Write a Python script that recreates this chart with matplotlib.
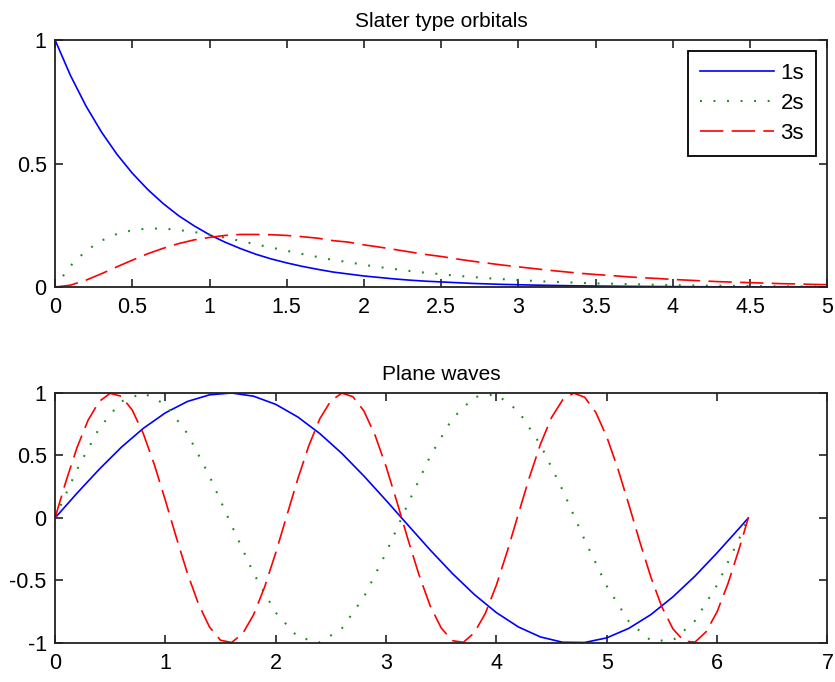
import numpy as np
import matplotlib.pyplot as plt

plt.rcParams['font.family'] = ['Liberation Sans', 'DejaVu Sans']

# Slater type orbitals sampled on r = 0 .. 5
r = np.round(np.arange(0, 5.01, 0.1), 2)
sto_1s = [1.000, 0.856, 0.733, 0.628, 0.538, 0.461, 0.395, 0.338, 0.289, 0.248,
          0.212, 0.182, 0.156, 0.133, 0.114, 0.098, 0.084, 0.072, 0.061, 0.053,
          0.045, 0.039, 0.033, 0.028, 0.024, 0.021, 0.018, 0.015, 0.013, 0.011,
          0.0096, 0.0082, 0.0070, 0.0060, 0.0051, 0.0044, 0.0038, 0.0032, 0.0028, 0.0024,
          0.0020, 0.0017, 0.0015, 0.0013, 0.0011, 0.0009, 0.0008, 0.0007, 0.0006, 0.0005,
          0.0004]
sto_2s = [0.000, 0.086, 0.147, 0.188, 0.215, 0.230, 0.237, 0.237, 0.231, 0.223,
          0.212, 0.200, 0.187, 0.173, 0.160, 0.147, 0.134, 0.122, 0.110, 0.101,
          0.090, 0.081, 0.073, 0.065, 0.058, 0.052, 0.046, 0.041, 0.036, 0.032,
          0.029, 0.025, 0.022, 0.020, 0.017, 0.015, 0.014, 0.012, 0.011, 0.009,
          0.008, 0.007, 0.006, 0.006, 0.005, 0.004, 0.004, 0.003, 0.003, 0.002,
          0.002]
sto_3s = [0.000, 0.008, 0.028, 0.054, 0.082, 0.109, 0.135, 0.157, 0.176, 0.191,
          0.201, 0.209, 0.213, 0.213, 0.212, 0.209, 0.204, 0.198, 0.188, 0.182,
          0.171, 0.162, 0.152, 0.142, 0.132, 0.124, 0.114, 0.105, 0.097, 0.089,
          0.082, 0.075, 0.068, 0.062, 0.056, 0.051, 0.047, 0.042, 0.038, 0.035,
          0.031, 0.028, 0.025, 0.022, 0.020, 0.018, 0.016, 0.014, 0.013, 0.011,
          0.010]
sto_labels = ['1s', '2s', '3s']

# Plane waves on x = 0 .. 2*pi
x_coarse = [0.0, 0.2, 0.4, 0.6, 0.8, 1.0, 1.2, 1.4, 1.6, 1.8, 2.0, 2.2, 2.4, 2.6,
            2.8, 3.0, 3.2, 3.4, 3.6, 3.8, 4.0, 4.2, 4.4, 4.6, 4.8, 5.0, 5.2, 5.4,
            5.6, 5.8, 6.0, 6.2, 6.283]
wave_1 = [0.000, 0.199, 0.389, 0.565, 0.717, 0.841, 0.932, 0.985, 1.000, 0.974,
          0.909, 0.808, 0.675, 0.516, 0.335, 0.141, -0.058, -0.256, -0.443, -0.612,
          -0.757, -0.872, -0.952, -0.994, -0.996, -0.959, -0.883, -0.773, -0.631, -0.465,
          -0.279, -0.083, 0.000]
wave_2 = [0.000, 0.389, 0.717, 0.932, 1.000, 0.909, 0.675, 0.335, -0.058, -0.443,
          -0.757, -0.952, -0.996, -0.883, -0.631, -0.279, 0.117, 0.494, 0.794, 0.968,
          0.989, 0.855, 0.585, 0.223, -0.175, -0.544, -0.827, -0.981, -0.980, -0.822,
          -0.537, -0.166, 0.000]
x_fine = [0.0, 0.1, 0.2, 0.3, 0.4, 0.5, 0.6, 0.7, 0.8, 0.9, 1.0, 1.1, 1.2, 1.3,
          1.4, 1.5, 1.6, 1.7, 1.8, 1.9, 2.0, 2.1, 2.2, 2.3, 2.4, 2.5, 2.6, 2.7,
          2.8, 2.9, 3.0, 3.1, 3.2, 3.3, 3.4, 3.5, 3.6, 3.7, 3.8, 3.9, 4.0, 4.1,
          4.2, 4.3, 4.4, 4.5, 4.6, 4.7, 4.8, 4.9, 5.0, 5.1, 5.2, 5.3, 5.4, 5.5,
          5.6, 5.7, 5.8, 5.9, 6.0, 6.1, 6.2, 6.283]
wave_3 = [0.000, 0.296, 0.565, 0.783, 0.932, 0.997, 0.974, 0.863, 0.675, 0.427,
          0.141, -0.158, -0.443, -0.688, -0.872, -0.978, -0.996, -0.926, -0.773, -0.551,
          -0.279, 0.017, 0.312, 0.578, 0.794, 0.938, 0.999, 0.970, 0.855, 0.663,
          0.412, 0.125, -0.175, -0.458, -0.703, -0.880, -0.981, -0.995, -0.918, -0.763,
          -0.537, -0.263, 0.034, 0.327, 0.592, 0.804, 0.944, 0.999, 0.966, 0.846,
          0.650, 0.397, 0.108, -0.191, -0.473, -0.712, -0.887, -0.985, -0.993, -0.911,
          -0.751, -0.522, -0.247, 0.000]

blue = '#0000ff'
green = '#1a8c1a'
red = '#ff0000'
dot_style = (0, (0.9, 5.6))
dash_style = (0, (14, 5))

fig = plt.figure(figsize=(8.35, 6.82), dpi=100)
ax1 = fig.add_axes([0.0659, 0.579, 0.925, 0.3625])
ax2 = fig.add_axes([0.0659, 0.0572, 0.925, 0.3666])

ax1.plot(r, sto_1s, color=blue, lw=1.2, label=sto_labels[0])
ax1.plot(r, sto_2s, color=green, lw=1.5, linestyle=dot_style, label=sto_labels[1])
ax1.plot(r, sto_3s, color=red, lw=1.2, linestyle=dash_style, label=sto_labels[2])
ax1.set_xlim(0, 5)
ax1.set_ylim(0, 1)
ax1.set_xticks(np.arange(0, 5.01, 0.5))
ax1.set_xticklabels(['0', '0.5', '1', '1.5', '2', '2.5', '3', '3.5', '4', '4.5', '5'])
ax1.set_yticks([0, 0.5, 1])
ax1.set_yticklabels(['0', '0.5', '1'])
ax1.set_title('Slater type orbitals', fontsize=15, pad=9)
leg = ax1.legend(loc='upper right', fontsize=16, handlelength=3.3, handletextpad=0.3,
                 labelspacing=0.4, borderpad=0.55, borderaxespad=0.5,
                 fancybox=False, framealpha=1, edgecolor='black')
leg.get_frame().set_linewidth(1.3)

ax2.plot(x_coarse, wave_1, color=blue, lw=1.2)
ax2.plot(x_coarse, wave_2, color=green, lw=1.5, linestyle=dot_style)
ax2.plot(x_fine, wave_3, color=red, lw=1.2, linestyle=dash_style)
ax2.set_xlim(0, 7)
ax2.set_ylim(-1, 1)
ax2.set_xticks(range(0, 8))
ax2.set_yticks([-1, -0.5, 0, 0.5, 1])
ax2.set_yticklabels(['-1', '-0.5', '0', '0.5', '1'])
ax2.set_title('Plane waves', fontsize=15, pad=9)

for ax in (ax1, ax2):
    for s in ax.spines.values():
        s.set_linewidth(1.3)
        s.set_color('#222222')
    ax.tick_params(direction='in', top=True, right=True, length=6, width=1.2,
                   labelsize=15.5, color='#222222')
    ax.tick_params(axis='x', pad=7)
    ax.tick_params(axis='y', pad=6)

fig.savefig('out.png', dpi=100)
